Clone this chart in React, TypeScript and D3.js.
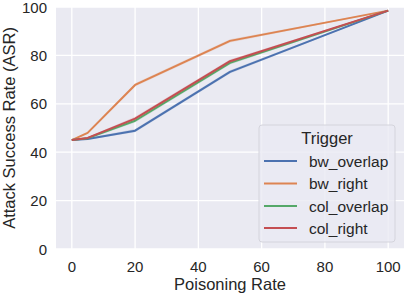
import React from 'react';
import * as d3 from 'd3';

// poisoning rate (x) and ASR per trigger
const rates = [0, 5, 20, 50, 100];
const bwOverlap = [45, 45.5, 48.9, 73.2, 98.5];
const bwRight = [45, 48, 67.8, 86, 98.5];
const colOverlap = [45, 45.8, 53, 76.9, 98.5];
const colRight = [45, 45.9, 53.9, 77.6, 98.5];
// half width of the faint ci band around each line
const spread = [0.2, 0.4, 0.7, 0.7, 0.2];

const series = [
  {name: 'bw_overlap', values: bwOverlap, color: '#4c72b0'},
  {name: 'bw_right', values: bwRight, color: '#dd8452'},
  {name: 'col_overlap', values: colOverlap, color: '#55a868'},
  {name: 'col_right', values: colRight, color: '#c44e52'},
];

const xTicks = [0, 20, 40, 60, 80, 100];
const yTicks = [0, 20, 40, 60, 80, 100];

export default function App() {
  const width = 404, height = 294;
  const margin = {top: 7, right: 0, bottom: 45, left: 56};
  const font = '"Liberation Sans", Arial, sans-serif';

  const x = d3.scaleLinear().domain([-5, 105]).range([margin.left, width - margin.right]);
  const y = d3.scaleLinear().domain([0, 100]).range([height - margin.bottom, margin.top]);

  const line = d3.line<number>()
    .x((d, i) => x(rates[i]))
    .y(d => y(d));

  const band = d3.area<number>()
    .x((d, i) => x(rates[i]))
    .y0((d, i) => y(d - spread[i]))
    .y1((d, i) => y(d + spread[i]));

  const [x0, x1] = x.range();
  const [y0, y1] = y.range();

  // legend box
  const lg = {x: 259, y: 125, w: 136, h: 117};
  const rowY = [161, 183.5, 206, 228];

  return (
    <svg width={width} height={height}
      style={{position: 'absolute', left: 0, top: 0, display: 'block', background: '#fff'}}
      fontFamily={font}>
      <rect x={x0} y={y1} width={x1 - x0} height={y0 - y1} fill="#eaeaf2" />

      {xTicks.map(t => (
        <line key={'gx' + t} x1={x(t)} x2={x(t)} y1={y1} y2={y0} stroke="#fff" strokeWidth={1.3} />
      ))}
      {yTicks.map(t => (
        <line key={'gy' + t} x1={x0} x2={x1} y1={y(t)} y2={y(t)} stroke="#fff" strokeWidth={1.3} />
      ))}

      {series.map(s => (
        <g key={s.name}>
          <path d={band(s.values) || ''} fill={s.color} opacity={0.2} />
          <path d={line(s.values) || ''} fill="none" stroke={s.color} strokeWidth={2} strokeLinejoin="round" />
        </g>
      ))}

      {xTicks.map(t => (
        <text key={'tx' + t} x={x(t)} y={y0 + 17} textAnchor="middle" dominantBaseline="central"
          fontSize={15} fill="#262626">{t}</text>
      ))}
      {yTicks.map(t => (
        <text key={'ty' + t} x={x0 - 9} y={y(t)} textAnchor="end" dominantBaseline="central"
          fontSize={15} fill="#262626">{t}</text>
      ))}

      <text x={(x0 + x1) / 2} y={284} textAnchor="middle" dominantBaseline="central"
        fontSize={16.5} fill="#262626">Poisoning Rate</text>
      <text transform={`translate(9,${(y0 + y1) / 2}) rotate(-90)`} textAnchor="middle"
        dominantBaseline="central" fontSize={16.5} fill="#262626">Attack Success Rate (ASR)</text>

      <rect x={lg.x} y={lg.y} width={lg.w} height={lg.h} rx={3}
        fill="#eaeaf2" fillOpacity={0.8} stroke="#d4d4dc" strokeWidth={1} />
      <text x={lg.x + lg.w / 2} y={138} textAnchor="middle" dominantBaseline="central"
        fontSize={16.5} fill="#262626">Trigger</text>
      {series.map((s, i) => (
        <g key={'lg' + s.name}>
          <line x1={264} x2={297} y1={rowY[i]} y2={rowY[i]} stroke={s.color} strokeWidth={2} />
          <text x={309} y={rowY[i]} dominantBaseline="central" fontSize={15.5} fill="#262626">{s.name}</text>
        </g>
      ))}
    </svg>
  );
}
